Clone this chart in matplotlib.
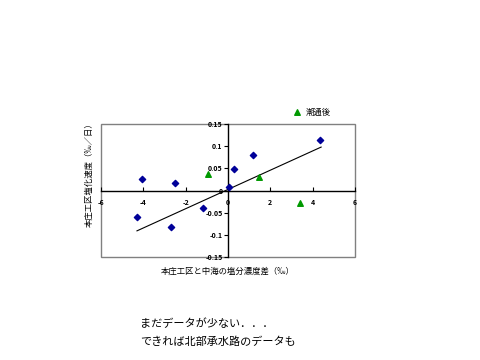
import matplotlib.pyplot as plt
from matplotlib.patches import Rectangle

plt.rcParams['font.family'] = ['Noto Sans CJK JP', 'DejaVu Sans']

# blue points (before)
before_x = [4.34, 1.16, 0.30, 0.05, -4.07, -2.51, -1.16, -4.29, -2.67]
before_y = [0.114, 0.079, 0.048, 0.009, 0.025, 0.018, -0.040, -0.060, -0.082]

# green points (after tidal flow)
after_x = [-0.94, 1.46, 3.38]
after_y = [0.037, 0.030, -0.028]

# trend line
trend_x = [-4.3, 4.4]
trend_y = [-0.091, 0.098]

xticks = [-6, -4, -2, 0, 2, 4, 6]
yticks = [-0.15, -0.1, -0.05, 0, 0.05, 0.1, 0.15]
ytick_labels = ['-0.15', '-0.1', '-0.05', '0', '0.05', '0.1', '0.15']

fig = plt.figure(figsize=(4.8, 3.6), dpi=100)
ax = fig.add_axes([0.2104, 0.2861, 0.5292, 0.3694])

ax.plot(trend_x, trend_y, color='black', lw=0.8)
ax.scatter(before_x, before_y, marker='D', s=10, color='#000099', zorder=3)
ax.scatter(after_x, after_y, marker='^', s=16, color='#009900', zorder=3)

ax.set_xlim(-6, 6)
ax.set_ylim(-0.15, 0.15)
ax.set_xticks(xticks)
ax.set_xticklabels([str(t) for t in xticks])
ax.set_yticks(yticks)
ax.set_yticklabels(ytick_labels)

ax.spines['left'].set_position(('data', 0))
ax.spines['bottom'].set_position(('data', 0))
for s in ['left', 'bottom']:
    ax.spines[s].set_color('black')
    ax.spines[s].set_linewidth(1.0)
for s in ['top', 'right']:
    ax.spines[s].set_visible(False)
ax.add_patch(Rectangle((0, 0), 1, 1, transform=ax.transAxes, fill=False,
                       edgecolor='#808080', lw=1.0, clip_on=False))

ax.tick_params(axis='x', direction='in', length=3, width=0.8, labelsize=5, pad=6)
ax.tick_params(axis='y', direction='out', length=3, width=0.8, labelsize=5, pad=1)
for lbl in ax.get_xticklabels() + ax.get_yticklabels():
    lbl.set_fontweight('bold')

fig.text(0.1854, 0.52, '本庄工区塩化速度（‰／日）', rotation=90, fontsize=6,
         ha='center', va='center')
fig.text(0.475, 0.247, '本庄工区と中海の塩分濃度差（‰）', fontsize=6,
         ha='center', va='center')

# legend entry
ax.scatter([0.619], [0.689], transform=fig.transFigure, marker='^', s=16,
           color='#009900', clip_on=False)
fig.text(0.636, 0.689, '潮通後', fontsize=6, ha='left', va='center')

fig.text(0.292, 0.10, 'まだデータが少ない．．．', fontsize=8, ha='left', va='center')
fig.text(0.292, 0.05, 'できれば北部承水路のデータも', fontsize=8, ha='left', va='center')

fig.savefig('out.png', dpi=100)
